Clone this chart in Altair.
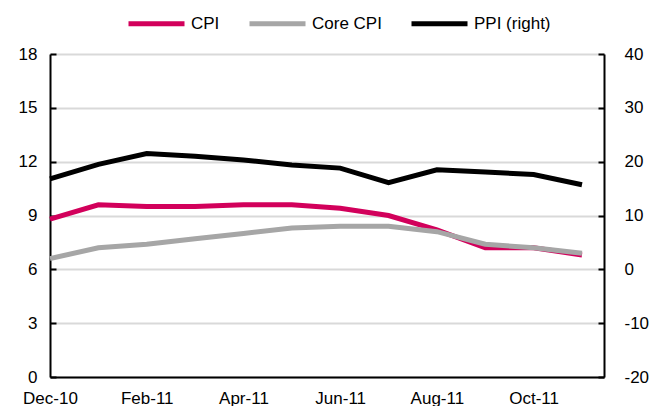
import altair as alt
import pandas as pd

# ---- data ----
months = ["Dec-10", "Jan-11", "Feb-11", "Mar-11", "Apr-11", "May-11",
          "Jun-11", "Jul-11", "Aug-11", "Sep-11", "Oct-11", "Nov-11"]
cpi = [8.8, 9.6, 9.5, 9.5, 9.6, 9.6, 9.4, 9.0, 8.2, 7.2, 7.2, 6.8]
core_cpi = [6.6, 7.2, 7.4, 7.7, 8.0, 8.3, 8.4, 8.4, 8.1, 7.4, 7.2, 6.9]
ppi = [16.8, 19.5, 21.5, 21.0, 20.3, 19.4, 18.8, 16.1, 18.5, 18.1, 17.6, 15.7]

series_names = ["CPI", "Core CPI", "PPI (right)"]
series_colors = ["#D2005B", "#A6A6A6", "#000000"]

left_ticks = [0, 3, 6, 9, 12, 15, 18]
right_ticks = [-20, -10, 0, 10, 20, 30, 40]
x_label_idx = [0, 2, 4, 6, 8, 10]

FONT = "'Liberation Sans', Arial, sans-serif"
AX_FS = 17
LEG_FS = 17
W, H = 554, 323


def frame(name, vals):
    return pd.DataFrame({"idx": list(range(len(months))), "month": months,
                         "series": name, "value": vals})


df_cpi = frame(series_names[0], cpi)
df_core = frame(series_names[1], core_cpi)
df_ppi = frame(series_names[2], ppi)

label_expr = "[" + ",".join("'" + m + "'" for m in months) + "][datum.value]"

x_enc = alt.X(
    "idx:Q",
    scale=alt.Scale(domain=[0, 11.455], nice=False, zero=False),
    axis=alt.Axis(values=x_label_idx, labelExpr=label_expr, title=None, grid=False,
                  ticks=False, tickSize=0, labelPadding=13, domainColor="black",
                  domainWidth=2, labelFontSize=AX_FS, labelFont=FONT, labelColor="black",
                  labelAlign="center", labelFlush=False),
)

color_enc = alt.Color(
    "series:N",
    scale=alt.Scale(domain=series_names, range=series_colors),
    legend=alt.Legend(orient="none", legendX=76, legendY=-61, direction="horizontal",
                      columns=3, title=None, symbolType="stroke", symbolSize=3136,
                      symbolStrokeWidth=5, labelFontSize=LEG_FS, labelFont=FONT,
                      labelColor="black", labelOffset=4, columnPadding=19,
                      labelLimit=300),
)

left_scale = alt.Scale(domain=[0, 18], nice=False, zero=False)
right_scale = alt.Scale(domain=[-20, 40], nice=False, zero=False)

cpi_line = alt.Chart(df_cpi).mark_line(strokeWidth=5).encode(
    x=x_enc,
    y=alt.Y("value:Q", scale=left_scale,
            axis=alt.Axis(orient="left", values=left_ticks, title=None, grid=True,
                          gridColor="#D9D9D9", gridWidth=2, ticks=False, tickSize=0,
                          labelPadding=13, domainColor="black", domainWidth=2,
                          labelFontSize=AX_FS, labelFont=FONT, labelColor="black",
                          labelExpr="'' + datum.value")),
    color=color_enc,
)

core_line = alt.Chart(df_core).mark_line(strokeWidth=5).encode(
    x=x_enc,
    y=alt.Y("value:Q", scale=left_scale,
            axis=alt.Axis(orient="right", offset=-W, values=left_ticks, title=None,
                          grid=False, labels=False, domain=False, ticks=True,
                          tickSize=6, tickWidth=2, tickColor="black")),
    color=color_enc,
)

left_group = alt.layer(cpi_line, core_line).resolve_axis(y="independent")

ppi_line = alt.Chart(df_ppi).mark_line(strokeWidth=5).encode(
    x=x_enc,
    y=alt.Y("value:Q", scale=right_scale,
            axis=alt.Axis(orient="right", values=right_ticks, title=None, grid=False,
                          ticks=False, tickSize=0, labelPadding=20,
                          domainColor="black", domainWidth=2, labelFontSize=AX_FS,
                          labelFont=FONT, labelColor="black",
                          labelExpr="'' + datum.value")),
    color=color_enc,
)

ppi_ticks = alt.Chart(df_ppi).mark_line(strokeWidth=5, strokeOpacity=0).encode(
    x=x_enc,
    y=alt.Y("value:Q", scale=right_scale,
            axis=alt.Axis(orient="left", offset=-W, values=right_ticks, title=None,
                          grid=False, labels=False, domain=False, ticks=True,
                          tickSize=6, tickWidth=2, tickColor="black")),
)

right_group = alt.layer(ppi_line, ppi_ticks).resolve_axis(y="independent")

chart = (
    alt.layer(left_group, right_group)
    .resolve_scale(y="independent")
    .properties(width=W, height=H,
                autosize=alt.AutoSizeParams(type="none"),
                padding={"left": 42, "top": 46, "right": 51, "bottom": 29},
                background="white")
    .configure_view(stroke=None)
)

chart.save("out.html", embed_options={"renderer": "svg", "actions": False})
